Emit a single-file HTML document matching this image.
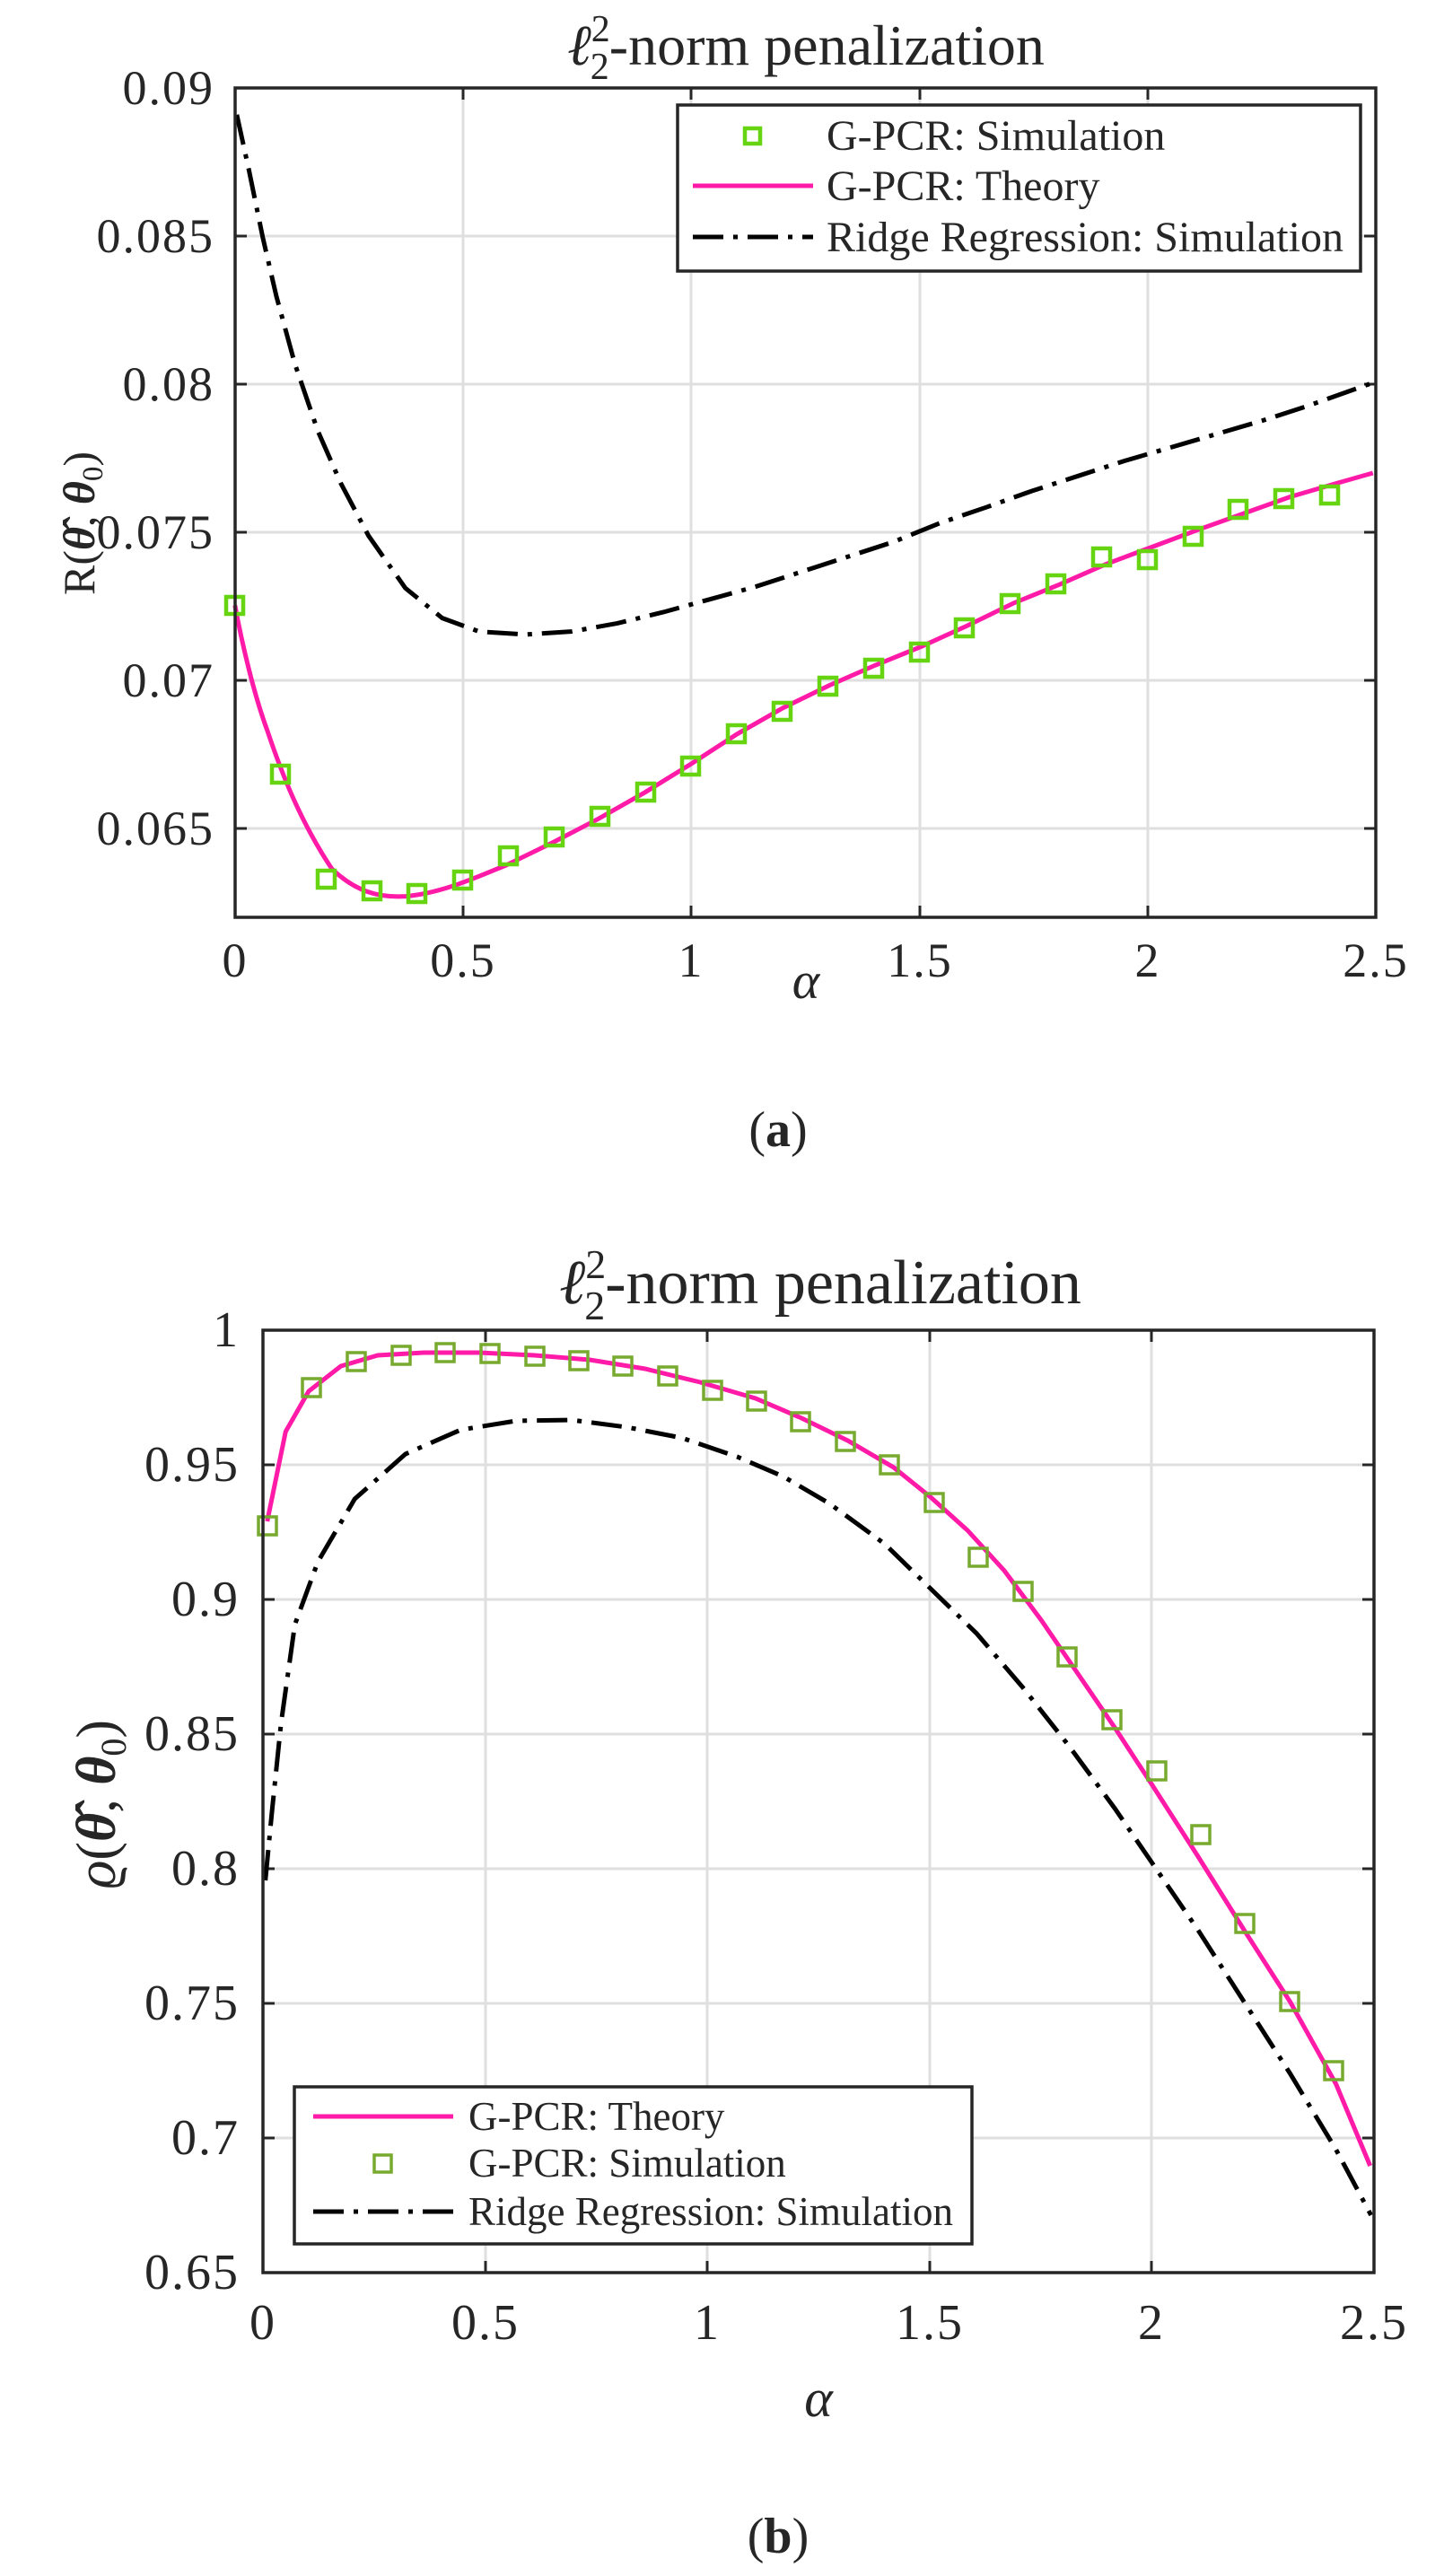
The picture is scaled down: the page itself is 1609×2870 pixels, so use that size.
<!DOCTYPE html>
<html><head><meta charset="utf-8"><style>
html,body{margin:0;padding:0;background:#fff;}
svg{display:block;}
text{font-family:"Liberation Serif","DejaVu Serif",serif;fill:#262626;}
</style></head><body>
<svg width="1609" height="2870" viewBox="0 0 1609 2870" xmlns="http://www.w3.org/2000/svg">
<rect width="1609" height="2870" fill="#fff"/>

<!-- ===== Plot A ===== -->
<text x="898" y="72" font-size="64" text-anchor="middle"><tspan font-style="italic">ℓ</tspan><tspan font-size="42" dy="-26">2</tspan><tspan font-size="42" dx="-22" dy="42">2</tspan><tspan dy="-16">-norm penalization</tspan></text>
<g stroke="#dfdfdf" stroke-width="3">
<line x1="516" y1="98" x2="516" y2="1022"/><line x1="770" y1="98" x2="770" y2="1022"/><line x1="1025" y1="98" x2="1025" y2="1022"/><line x1="1279" y1="98" x2="1279" y2="1022"/>
<line x1="262" y1="263" x2="1533" y2="263"/><line x1="262" y1="428" x2="1533" y2="428"/><line x1="262" y1="593" x2="1533" y2="593"/><line x1="262" y1="758" x2="1533" y2="758"/><line x1="262" y1="923" x2="1533" y2="923"/>
</g>
<g stroke="#262626" stroke-width="3">
<path d="M516 98v13M770 98v13M1025 98v13M1279 98v13M516 1022v-13M770 1022v-13M1025 1022v-13M1279 1022v-13"/>
<path d="M262 263h13M262 428h13M262 593h13M262 758h13M262 923h13M1533 263h-13M1533 428h-13M1533 593h-13M1533 758h-13M1533 923h-13"/>
</g>
<g transform="translate(0,-3) scale(1.0267,0.8333)">
<path fill="none" stroke="#000" stroke-width="5" vector-effect="non-scaling-stroke" stroke-dasharray="34,11,5,11" d="M257 157 L270 230 L285 320 L300 400 L320 490 L345 580 L370 650 L400 720 L440 790 L480 830 L520 848 L570 852 L620 848 L670 837 L720 822 L770 805 L820 788 L870 768 L920 748 L970 728 L1020 703 L1070 682 L1120 660 L1170 640 L1220 620 L1270 602 L1320 584 L1370 566 L1420 546 L1493 514"/>
<path fill="none" stroke="#ff1aa8" stroke-width="5" vector-effect="non-scaling-stroke" d="M255 813 C262 860 275 930 290 980 C305 1035 325 1100 360 1165 C385 1195 410 1204 440 1202 C480 1198 520 1175 550 1160 L600 1130 L650 1098 L700 1063 L750 1025 L800 985 L850 950 L900 920 L950 893 L1000 868 L1050 840 L1100 810 L1150 785 L1200 758 L1250 735 L1300 712 L1350 690 L1400 668 L1450 650 L1490 636"/>
</g>
<g fill="none" stroke="#66d411" stroke-width="4.5">
<rect x="252" y="665" width="19" height="19"/><rect x="303" y="853" width="19" height="19"/><rect x="354" y="970" width="19" height="19"/><rect x="405" y="983" width="19" height="19"/><rect x="455" y="986" width="19" height="19"/><rect x="506" y="971" width="19" height="19"/><rect x="557" y="944" width="19" height="19"/><rect x="608" y="923" width="19" height="19"/><rect x="659" y="900" width="19" height="19"/><rect x="710" y="873" width="19" height="19"/><rect x="760" y="844" width="19" height="19"/><rect x="811" y="808" width="19" height="19"/><rect x="862" y="783" width="19" height="19"/><rect x="913" y="755" width="19" height="19"/><rect x="964" y="735" width="19" height="19"/><rect x="1015" y="717" width="19" height="19"/><rect x="1065" y="690" width="19" height="19"/><rect x="1116" y="663" width="19" height="19"/><rect x="1167" y="641" width="19" height="19"/><rect x="1218" y="611" width="19" height="19"/><rect x="1269" y="614" width="19" height="19"/><rect x="1320" y="588" width="19" height="19"/><rect x="1370" y="558" width="19" height="19"/><rect x="1421" y="546" width="19" height="19"/><rect x="1472" y="542" width="19" height="19"/>
</g>
<rect x="262" y="98" width="1271" height="924" fill="none" stroke="#262626" stroke-width="3.5"/>
<rect x="755" y="117" width="761" height="185" fill="#fff" stroke="#262626" stroke-width="3.5"/>
<rect x="830" y="143" width="17" height="17" fill="none" stroke="#66d411" stroke-width="4.5"/>
<line x1="772" y1="207" x2="906" y2="207" stroke="#ff1aa8" stroke-width="5"/>
<line x1="772" y1="264" x2="906" y2="264" stroke="#000" stroke-width="5" stroke-dasharray="34,11,5,11"/>
<g font-size="48"><text x="921" y="167">G-PCR: Simulation</text><text x="921" y="223">G-PCR: Theory</text><text x="921" y="280">Ridge Regression: Simulation</text></g>
<g font-size="54" text-anchor="end" letter-spacing="2">
<text x="239" y="116">0.09</text><text x="239" y="281">0.085</text><text x="239" y="446">0.08</text><text x="239" y="611">0.075</text><text x="239" y="776">0.07</text><text x="239" y="941">0.065</text>
</g>
<g font-size="54" text-anchor="middle" letter-spacing="2">
<text x="262" y="1088">0</text><text x="516" y="1088">0.5</text><text x="770" y="1088">1</text><text x="1025" y="1088">1.5</text><text x="1279" y="1088">2</text><text x="1533" y="1088">2.5</text>
</g>
<text x="898" y="1112" font-size="58" font-style="italic" text-anchor="middle">α</text>
<text transform="translate(105,583) rotate(-90)" font-size="50" text-anchor="middle">R(<tspan font-weight="bold" font-style="italic">θ̂</tspan>, <tspan font-weight="bold" font-style="italic">θ</tspan><tspan font-size="33" dy="9">0</tspan><tspan dy="-9">)</tspan></text>
<text x="867" y="1277" font-size="56" text-anchor="middle" font-family="Liberation Sans">(<tspan font-weight="bold">a</tspan>)</text>

<!-- ===== Plot B ===== -->
<text x="914" y="1452" font-size="70" text-anchor="middle"><tspan font-style="italic">ℓ</tspan><tspan font-size="46" dy="-28">2</tspan><tspan font-size="46" dx="-24" dy="46">2</tspan><tspan dy="-18">-norm penalization</tspan></text>
<g stroke="#dfdfdf" stroke-width="3">
<line x1="541" y1="1482" x2="541" y2="2532"/><line x1="788" y1="1482" x2="788" y2="2532"/><line x1="1036" y1="1482" x2="1036" y2="2532"/><line x1="1283" y1="1482" x2="1283" y2="2532"/>
<line x1="293" y1="1632" x2="1531" y2="1632"/><line x1="293" y1="1782" x2="1531" y2="1782"/><line x1="293" y1="1932" x2="1531" y2="1932"/><line x1="293" y1="2082" x2="1531" y2="2082"/><line x1="293" y1="2232" x2="1531" y2="2232"/><line x1="293" y1="2382" x2="1531" y2="2382"/>
</g>
<g stroke="#262626" stroke-width="3">
<path d="M541 1482v13M788 1482v13M1036 1482v13M1283 1482v13M541 2532v-13M788 2532v-13M1036 2532v-13M1283 2532v-13"/>
<path d="M293 1632h13M293 1782h13M293 1932h13M293 2082h13M293 2232h13M293 2382h13M1531 1632h-13M1531 1782h-13M1531 1932h-13M1531 2082h-13M1531 2232h-13M1531 2382h-13"/>
</g>
<g transform="translate(0,1300) scale(1.0267,1)">
<path fill="none" stroke="#000" stroke-width="5" vector-effect="non-scaling-stroke" stroke-dasharray="34,11,5,11" d="M288 795 L295 720 L305 620 L320 510 L345 440 L385 370 L440 320 L500 293 L560 283 L620 282 L680 290 L740 302 L800 323 L850 345 L900 375 L960 420 L1010 470 L1060 520 L1110 580 L1160 645 L1210 715 L1250 775 L1300 850 L1350 930 L1400 1010 L1450 1095 L1488 1168"/>
<path fill="none" stroke="#ff1aa8" stroke-width="5" vector-effect="non-scaling-stroke" d="M290 395 L310 295 L335 250 L370 222 L410 210 L460 207 L520 207 L580 210 L640 215 L700 225 L760 240 L820 258 L870 280 L920 305 L970 335 L1010 368 L1050 405 L1090 450 L1130 505 L1170 565 L1210 625 L1250 688 L1300 768 L1350 850 L1400 930 L1450 1022 L1487 1113"/>
</g>
<g fill="none" stroke="#77aa2f" stroke-width="3.5" transform="translate(0,1300)">
<rect x="288" y="390" width="20" height="20"/><rect x="337" y="236" width="20" height="20"/><rect x="387" y="207" width="20" height="20"/><rect x="437" y="200" width="20" height="20"/><rect x="486" y="197" width="20" height="20"/><rect x="536" y="198" width="20" height="20"/><rect x="586" y="201" width="20" height="20"/><rect x="635" y="206" width="20" height="20"/><rect x="684" y="212" width="20" height="20"/><rect x="734" y="223" width="20" height="20"/><rect x="784" y="239" width="20" height="20"/><rect x="833" y="251" width="20" height="20"/><rect x="882" y="274" width="20" height="20"/><rect x="932" y="296" width="20" height="20"/><rect x="981" y="322" width="20" height="20"/><rect x="1031" y="364" width="20" height="20"/><rect x="1080" y="425" width="20" height="20"/><rect x="1130" y="463" width="20" height="20"/><rect x="1179" y="536" width="20" height="20"/><rect x="1229" y="606" width="20" height="20"/><rect x="1279" y="663" width="20" height="20"/><rect x="1328" y="734" width="20" height="20"/><rect x="1377" y="833" width="20" height="20"/><rect x="1427" y="920" width="20" height="20"/><rect x="1476" y="997" width="20" height="20"/>
</g>
<rect x="293" y="1482" width="1238" height="1050" fill="none" stroke="#262626" stroke-width="3.5"/>
<rect x="328" y="2325" width="755" height="175" fill="#fff" stroke="#262626" stroke-width="3.5"/>
<line x1="349" y1="2358" x2="505" y2="2358" stroke="#ff1aa8" stroke-width="5"/>
<rect x="417" y="2401" width="19" height="19" fill="none" stroke="#77aa2f" stroke-width="3.5"/>
<line x1="349" y1="2464" x2="505" y2="2464" stroke="#000" stroke-width="5" stroke-dasharray="34,11,5,11"/>
<g font-size="45"><text x="522" y="2373">G-PCR: Theory</text><text x="522" y="2425">G-PCR: Simulation</text><text x="522" y="2479">Ridge Regression: Simulation</text></g>
<g font-size="56" text-anchor="end" letter-spacing="2">
<text x="267" y="1500">1</text><text x="267" y="1650">0.95</text><text x="267" y="1800">0.9</text><text x="267" y="1950">0.85</text><text x="267" y="2100">0.8</text><text x="267" y="2250">0.75</text><text x="267" y="2400">0.7</text><text x="267" y="2550">0.65</text>
</g>
<g font-size="56" text-anchor="middle" letter-spacing="2">
<text x="293" y="2606">0</text><text x="541" y="2606">0.5</text><text x="788" y="2606">1</text><text x="1036" y="2606">1.5</text><text x="1283" y="2606">2</text><text x="1531" y="2606">2.5</text>
</g>
<text x="912" y="2692" font-size="60" font-style="italic" text-anchor="middle">α</text>
<text transform="translate(128,2010) rotate(-90)" font-size="62" text-anchor="middle"><tspan font-style="italic">ϱ</tspan>(<tspan font-weight="bold" font-style="italic">θ̂</tspan>, <tspan font-weight="bold" font-style="italic">θ</tspan><tspan font-size="40" dy="12">0</tspan><tspan dy="-12">)</tspan></text>
<text x="867" y="2844" font-size="56" text-anchor="middle" font-family="Liberation Sans">(<tspan font-weight="bold">b</tspan>)</text>
</svg>
</body></html>
